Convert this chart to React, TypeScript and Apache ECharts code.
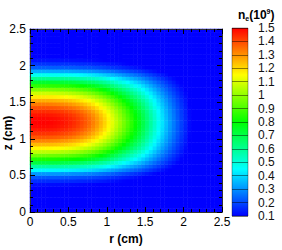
import React, { useEffect, useRef } from "react";
import * as echarts from "echarts";

// cell centres (cm) of the sampled field
const rCells = [
  0.025, 0.075, 0.125, 0.175, 0.225, 0.275, 0.325, 0.375, 0.425, 0.475,
  0.525, 0.575, 0.625, 0.675, 0.725, 0.775, 0.825, 0.875, 0.925, 0.975,
  1.025, 1.075, 1.125, 1.175, 1.225, 1.275, 1.325, 1.375, 1.425, 1.475,
  1.525, 1.575, 1.625, 1.675, 1.725, 1.775, 1.825, 1.875, 1.925, 1.975,
  2.025, 2.075, 2.125, 2.175, 2.225, 2.275, 2.325, 2.375, 2.425, 2.475,
];
const zCells = [
  0.025, 0.075, 0.125, 0.175, 0.225, 0.275, 0.325, 0.375, 0.425, 0.475,
  0.525, 0.575, 0.625, 0.675, 0.725, 0.775, 0.825, 0.875, 0.925, 0.975,
  1.025, 1.075, 1.125, 1.175, 1.225, 1.275, 1.325, 1.375, 1.425, 1.475,
  1.525, 1.575, 1.625, 1.675, 1.725, 1.775, 1.825, 1.875, 1.925, 1.975,
  2.025, 2.075, 2.125, 2.175, 2.225, 2.275, 2.325, 2.375, 2.425, 2.475,
];
// radial profile (normalised) read along z ≈ 1.23 cm
const rProfile = [
  1.0, 1.0, 1.0, 0.999, 0.998, 0.996, 0.993, 0.989, 0.984, 0.978,
  0.97, 0.961, 0.949, 0.936, 0.921, 0.904, 0.884, 0.861, 0.836, 0.808,
  0.777, 0.743, 0.709, 0.675, 0.641, 0.607, 0.573, 0.539, 0.506, 0.467,
  0.428, 0.389, 0.35, 0.312, 0.276, 0.242, 0.21, 0.18, 0.151, 0.125,
  0.101, 0.075, 0.058, 0.042, 0.028, 0.016, 0.007, 0.002, 0, 0,
];
// axial profile (normalised) read along r = 0
const zProfile = [
  0, 0, 0, 0.002, 0.01, 0.023, 0.047, 0.077, 0.107, 0.146,
  0.206, 0.296, 0.387, 0.475, 0.558, 0.636, 0.707, 0.773, 0.83, 0.88,
  0.922, 0.955, 0.979, 0.994, 1.0, 0.996, 0.983, 0.961, 0.929, 0.889,
  0.841, 0.785, 0.721, 0.65, 0.574, 0.492, 0.405, 0.314, 0.224, 0.153,
  0.113, 0.083, 0.053, 0.027, 0.012, 0.003, 0, 0, 0, 0,
];
const peakValue = 1.5;

const axisMin = 0;
const axisMax = 2.5;
const axisStep = 0.5;

const levelMin = 0.1;
const levelMax = 1.5;
const levelStep = 0.1;

const jetColors = ["#0000ff", "#00ffff", "#00ff00", "#ffff00", "#ff0000"];

const FONT = "Arial, 'Liberation Sans', sans-serif";

export default function App() {
  const ref = useRef<HTMLDivElement>(null);

  useEffect(() => {
    if (!ref.current) return;
    const chart = echarts.init(ref.current, null, { renderer: "svg" });

    const heatData: number[][] = [];
    zProfile.forEach((gz, j) => {
      rProfile.forEach((fr, i) => {
        const v = Math.min(levelMax, Math.max(levelMin, peakValue * fr * gz));
        heatData.push([i, j, v]);
      });
    });

    const stops = jetColors
      .slice()
      .reverse()
      .map((c, i, arr) => ({ offset: i / (arr.length - 1), color: c }));

    const valueAxis = (extra: any) => ({
      type: "value",
      gridIndex: 0,
      min: axisMin,
      max: axisMax,
      interval: axisStep,
      z: 10,
      axisLine: { show: true, onZero: false, lineStyle: { color: "#333", width: 1 } },
      axisTick: { show: true, inside: true, length: 5, lineStyle: { color: "#000", width: 1 } },
      minorTick: { show: true, splitNumber: 5, length: 3, lineStyle: { color: "#000", width: 1 } },
      splitLine: { show: false },
      axisLabel: { show: true, color: "#000", fontSize: 12, fontFamily: FONT },
      ...extra,
    });

    const option: any = {
      animation: false,
      backgroundColor: "#fff",
      grid: [
        { left: 30, top: 29, width: 192, height: 192, containLabel: false },
        { left: 232, top: 28, width: 16, height: 188, containLabel: false },
      ],
      xAxis: [
        valueAxis({
          position: "bottom",
          axisLabel: { show: true, margin: 4, color: "#000", fontSize: 12, fontFamily: FONT },
          name: "r (cm)",
          nameLocation: "middle",
          nameGap: 13,
          nameTextStyle: { fontWeight: "bold", fontSize: 12, color: "#000", fontFamily: FONT },
        }),
        valueAxis({ position: "top", axisLabel: { show: false } }),
        { type: "category", gridIndex: 0, data: rCells.map(String), show: false },
        { type: "value", gridIndex: 1, min: 0, max: 1, show: false },
      ],
      yAxis: [
        valueAxis({
          position: "left",
          axisLabel: { show: true, margin: 4, color: "#000", fontSize: 12, fontFamily: FONT },
        }),
        valueAxis({ position: "right", axisLabel: { show: false } }),
        { type: "category", gridIndex: 0, data: zCells.map(String), show: false },
        {
          type: "value",
          gridIndex: 1,
          position: "right",
          min: levelMin,
          max: levelMax,
          interval: levelStep,
          z: 10,
          axisLine: { show: false },
          axisTick: { show: false },
          splitLine: { show: true, lineStyle: { color: "rgba(0,0,0,0.45)", width: 1 } },
          axisLabel: { show: true, margin: 10, color: "#111", fontSize: 12, fontFamily: FONT },
        },
      ],
      visualMap: {
        type: "continuous",
        show: false,
        min: levelMin,
        max: levelMax,
        dimension: 2,
        seriesIndex: 0,
        inRange: { color: jetColors },
      },
      series: [
        {
          type: "heatmap",
          xAxisIndex: 2,
          yAxisIndex: 2,
          data: heatData,
          progressive: 0,
          silent: true,
          itemStyle: { borderWidth: 0 },
        },
        {
          type: "custom",
          xAxisIndex: 3,
          yAxisIndex: 3,
          silent: true,
          data: [[0, levelMax, 1, levelMin]],
          renderItem: (params: any, api: any) => {
            const a = api.coord([api.value(0), api.value(1)]);
            const b = api.coord([api.value(2), api.value(3)]);
            return {
              type: "rect",
              shape: { x: a[0], y: a[1], width: b[0] - a[0], height: b[1] - a[1] },
              style: {
                fill: new echarts.graphic.LinearGradient(0, 0, 0, 1, stops),
                stroke: "rgba(0,0,0,0.35)",
                lineWidth: 1,
              },
            };
          },
        },
      ],
      graphic: [
        {
          type: "text",
          x: 8,
          y: 133,
          rotation: Math.PI / 2,
          style: {
            text: "z (cm)",
            fill: "#000",
            font: `bold 12px ${FONT}`,
            align: "center",
            verticalAlign: "middle",
          },
        },
        {
          type: "text",
          x: 238,
          y: 8,
          style: {
            text: "{a|n}{b|e}{a|(10}{c|9}{a|)}",
            align: "left",
            verticalAlign: "top",
            rich: {
              a: { fontSize: 12, fontWeight: "bold", fontFamily: FONT, fill: "#000", lineHeight: 14 },
              b: { fontSize: 7, fontWeight: "bold", fontFamily: FONT, fill: "#000", lineHeight: 8, verticalAlign: "bottom" },
              c: { fontSize: 7, fontWeight: "bold", fontFamily: FONT, fill: "#000", lineHeight: 8, verticalAlign: "top" },
            },
          },
        },
      ],
    };

    chart.setOption(option);
    return () => chart.dispose();
  }, []);

  return (
    <div
      ref={ref}
      style={{ position: "fixed", left: 0, top: 0, width: 282, height: 250, background: "#fff" }}
    />
  );
}
